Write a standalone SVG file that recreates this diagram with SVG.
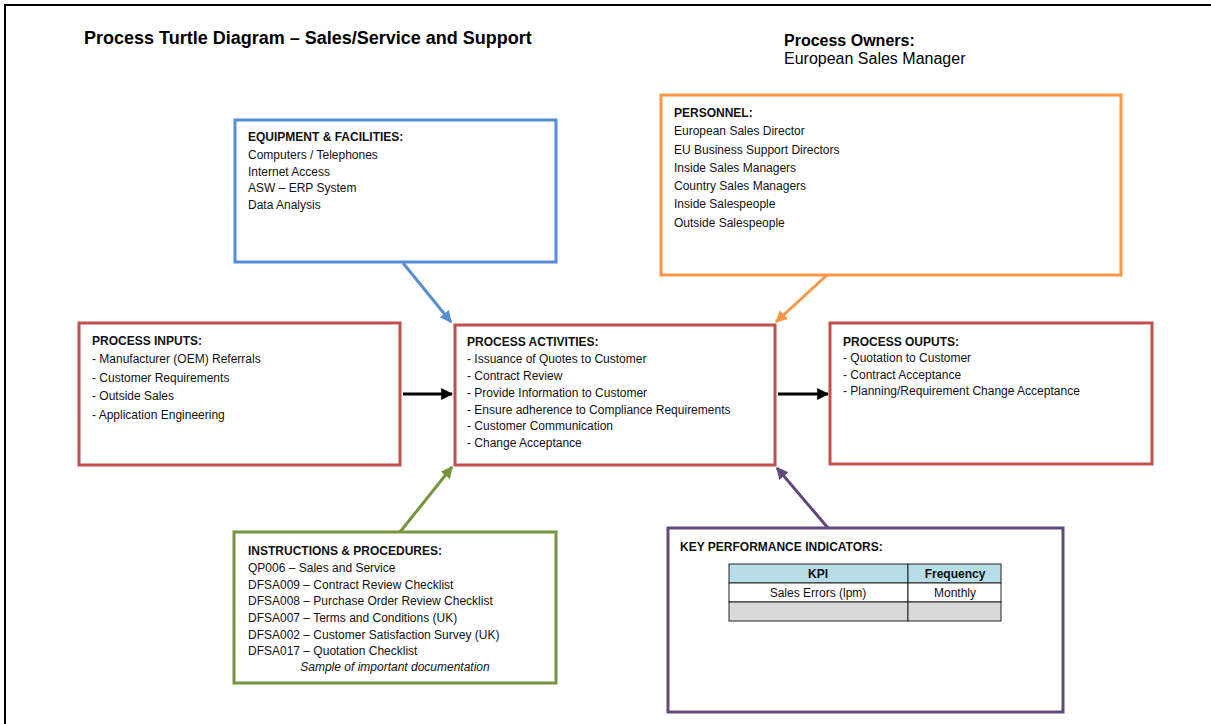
<svg xmlns="http://www.w3.org/2000/svg" width="1211" height="724" viewBox="0 0 1211 724">
<style>
.t{font-family:"Liberation Sans",Arial,sans-serif;font-size:12px;fill:#111}
.h{font-weight:bold}
.box{fill:#fff;stroke-width:3}
.title{font-family:"Liberation Sans",Arial,sans-serif;font-size:18px;font-weight:bold;fill:#000}
.own{font-family:"Liberation Sans",Arial,sans-serif;font-size:16px;fill:#000}
.conn{stroke-width:3;fill:none}
</style>
<defs>
<marker id="aBlue" viewBox="0 0 10 10" refX="9" refY="5" markerWidth="4" markerHeight="4" orient="auto" markerUnits="strokeWidth"><path d="M0,0 L10,5 L0,10 z" fill="#558ED5"/></marker>
<marker id="aOrange" viewBox="0 0 10 10" refX="9" refY="5" markerWidth="4" markerHeight="4" orient="auto" markerUnits="strokeWidth"><path d="M0,0 L10,5 L0,10 z" fill="#F79646"/></marker>
<marker id="aGreen" viewBox="0 0 10 10" refX="9" refY="5" markerWidth="4" markerHeight="4" orient="auto" markerUnits="strokeWidth"><path d="M0,0 L10,5 L0,10 z" fill="#77933C"/></marker>
<marker id="aPurple" viewBox="0 0 10 10" refX="9" refY="5" markerWidth="4" markerHeight="4" orient="auto" markerUnits="strokeWidth"><path d="M0,0 L10,5 L0,10 z" fill="#604A7B"/></marker>
<marker id="aBlack" viewBox="0 0 10 10" refX="9" refY="5" markerWidth="4" markerHeight="4" orient="auto" markerUnits="strokeWidth"><path d="M0,0 L10,5 L0,10 z" fill="#000"/></marker>
</defs>
<rect x="0" y="0" width="1211" height="724" fill="#fff"/>
<rect x="5" y="5" width="1230" height="740" fill="none" stroke="#000" stroke-width="2"/>

<g id="header">
<text class="title" x="84" y="44">Process Turtle Diagram – Sales/Service and Support</text>
<text class="own" x="784" y="46" font-weight="bold">Process Owners:</text>
<text class="own" x="784" y="64">European Sales Manager</text>
</g>

<g id="connectors">
<line class="conn" x1="403" y1="263" x2="451" y2="322" stroke="#558ED5" marker-end="url(#aBlue)"/>
<line class="conn" x1="827" y1="275" x2="776" y2="322" stroke="#F79646" marker-end="url(#aOrange)"/>
<line class="conn" x1="400" y1="532" x2="452" y2="467" stroke="#77933C" marker-end="url(#aGreen)"/>
<line class="conn" x1="828" y1="528" x2="777" y2="468" stroke="#604A7B" marker-end="url(#aPurple)"/>
<line class="conn" x1="403" y1="394" x2="452" y2="394" stroke="#000" marker-end="url(#aBlack)"/>
<line class="conn" x1="778" y1="394" x2="828" y2="394" stroke="#000" marker-end="url(#aBlack)"/>
</g>

<g id="equipment">
<rect class="box" x="235" y="120" width="321" height="142" stroke="#558ED5"/>
<text class="t h" x="248" y="141">EQUIPMENT &amp; FACILITIES:</text>
<text class="t" x="248" y="159">Computers / Telephones</text>
<text class="t" x="248" y="176">Internet Access</text>
<text class="t" x="248" y="192">ASW – ERP System</text>
<text class="t" x="248" y="209">Data Analysis</text>
</g>

<g id="personnel">
<rect class="box" x="661" y="95" width="460" height="180" stroke="#F79646"/>
<text class="t h" x="674" y="117">PERSONNEL:</text>
<text class="t" x="674" y="135">European Sales Director</text>
<text class="t" x="674" y="154">EU Business Support Directors</text>
<text class="t" x="674" y="172">Inside Sales Managers</text>
<text class="t" x="674" y="190">Country Sales Managers</text>
<text class="t" x="674" y="208">Inside Salespeople</text>
<text class="t" x="674" y="227">Outside Salespeople</text>
</g>

<g id="inputs">
<rect class="box" x="79" y="323" width="321" height="142" stroke="#C0504D"/>
<text class="t h" x="92" y="345">PROCESS INPUTS:</text>
<text class="t" x="92" y="363">- Manufacturer (OEM) Referrals</text>
<text class="t" x="92" y="382">- Customer Requirements</text>
<text class="t" x="92" y="400">- Outside Sales</text>
<text class="t" x="92" y="419">- Application Engineering</text>
</g>

<g id="activities">
<rect class="box" x="455" y="325" width="320" height="140" stroke="#C0504D"/>
<text class="t h" x="467" y="346">PROCESS ACTIVITIES:</text>
<text class="t" x="467" y="363">- Issuance of Quotes to Customer</text>
<text class="t" x="467" y="380">- Contract Review</text>
<text class="t" x="467" y="397">- Provide Information to Customer</text>
<text class="t" x="467" y="414">- Ensure adherence to Compliance Requirements</text>
<text class="t" x="467" y="430">- Customer Communication</text>
<text class="t" x="467" y="447">- Change Acceptance</text>
</g>

<g id="outputs">
<rect class="box" x="830" y="323" width="322" height="141" stroke="#C0504D"/>
<text class="t h" x="843" y="346">PROCESS OUPUTS:</text>
<text class="t" x="843" y="362">- Quotation to Customer</text>
<text class="t" x="843" y="379">- Contract Acceptance</text>
<text class="t" x="843" y="395">- Planning/Requirement Change Acceptance</text>
</g>

<g id="instructions">
<rect class="box" x="234" y="532" width="322" height="151" stroke="#77933C"/>
<text class="t h" x="248" y="555">INSTRUCTIONS &amp; PROCEDURES:</text>
<text class="t" x="248" y="572">QP006 – Sales and Service</text>
<text class="t" x="248" y="589">DFSA009 – Contract Review Checklist</text>
<text class="t" x="248" y="605">DFSA008 – Purchase Order Review Checklist</text>
<text class="t" x="248" y="622">DFSA007 – Terms and Conditions (UK)</text>
<text class="t" x="248" y="639">DFSA002 – Customer Satisfaction Survey (UK)</text>
<text class="t" x="248" y="655">DFSA017 – Quotation Checklist</text>
<text class="t" x="395" y="671" text-anchor="middle" font-style="italic">Sample of important documentation</text>
</g>

<g id="kpi">
<rect class="box" x="668" y="528" width="395" height="184" stroke="#604A7B"/>
<text class="t h" x="680" y="551">KEY PERFORMANCE INDICATORS:</text>
<rect x="729" y="564" width="179" height="19" fill="#B7DEE8" stroke="#222" stroke-width="1"/>
<rect x="908" y="564" width="93" height="19" fill="#B7DEE8" stroke="#222" stroke-width="1"/>
<rect x="729" y="583" width="179" height="19" fill="#fff" stroke="#222" stroke-width="1"/>
<rect x="908" y="583" width="93" height="19" fill="#fff" stroke="#222" stroke-width="1"/>
<rect x="729" y="602" width="179" height="19" fill="#D9D9D9" stroke="#222" stroke-width="1"/>
<rect x="908" y="602" width="93" height="19" fill="#D9D9D9" stroke="#222" stroke-width="1"/>
<text class="t h" x="818" y="578" text-anchor="middle">KPI</text>
<text class="t h" x="955" y="578" text-anchor="middle">Frequency</text>
<text class="t" x="818" y="597" text-anchor="middle">Sales Errors (lpm)</text>
<text class="t" x="955" y="597" text-anchor="middle">Monthly</text>
</g>
</svg>
